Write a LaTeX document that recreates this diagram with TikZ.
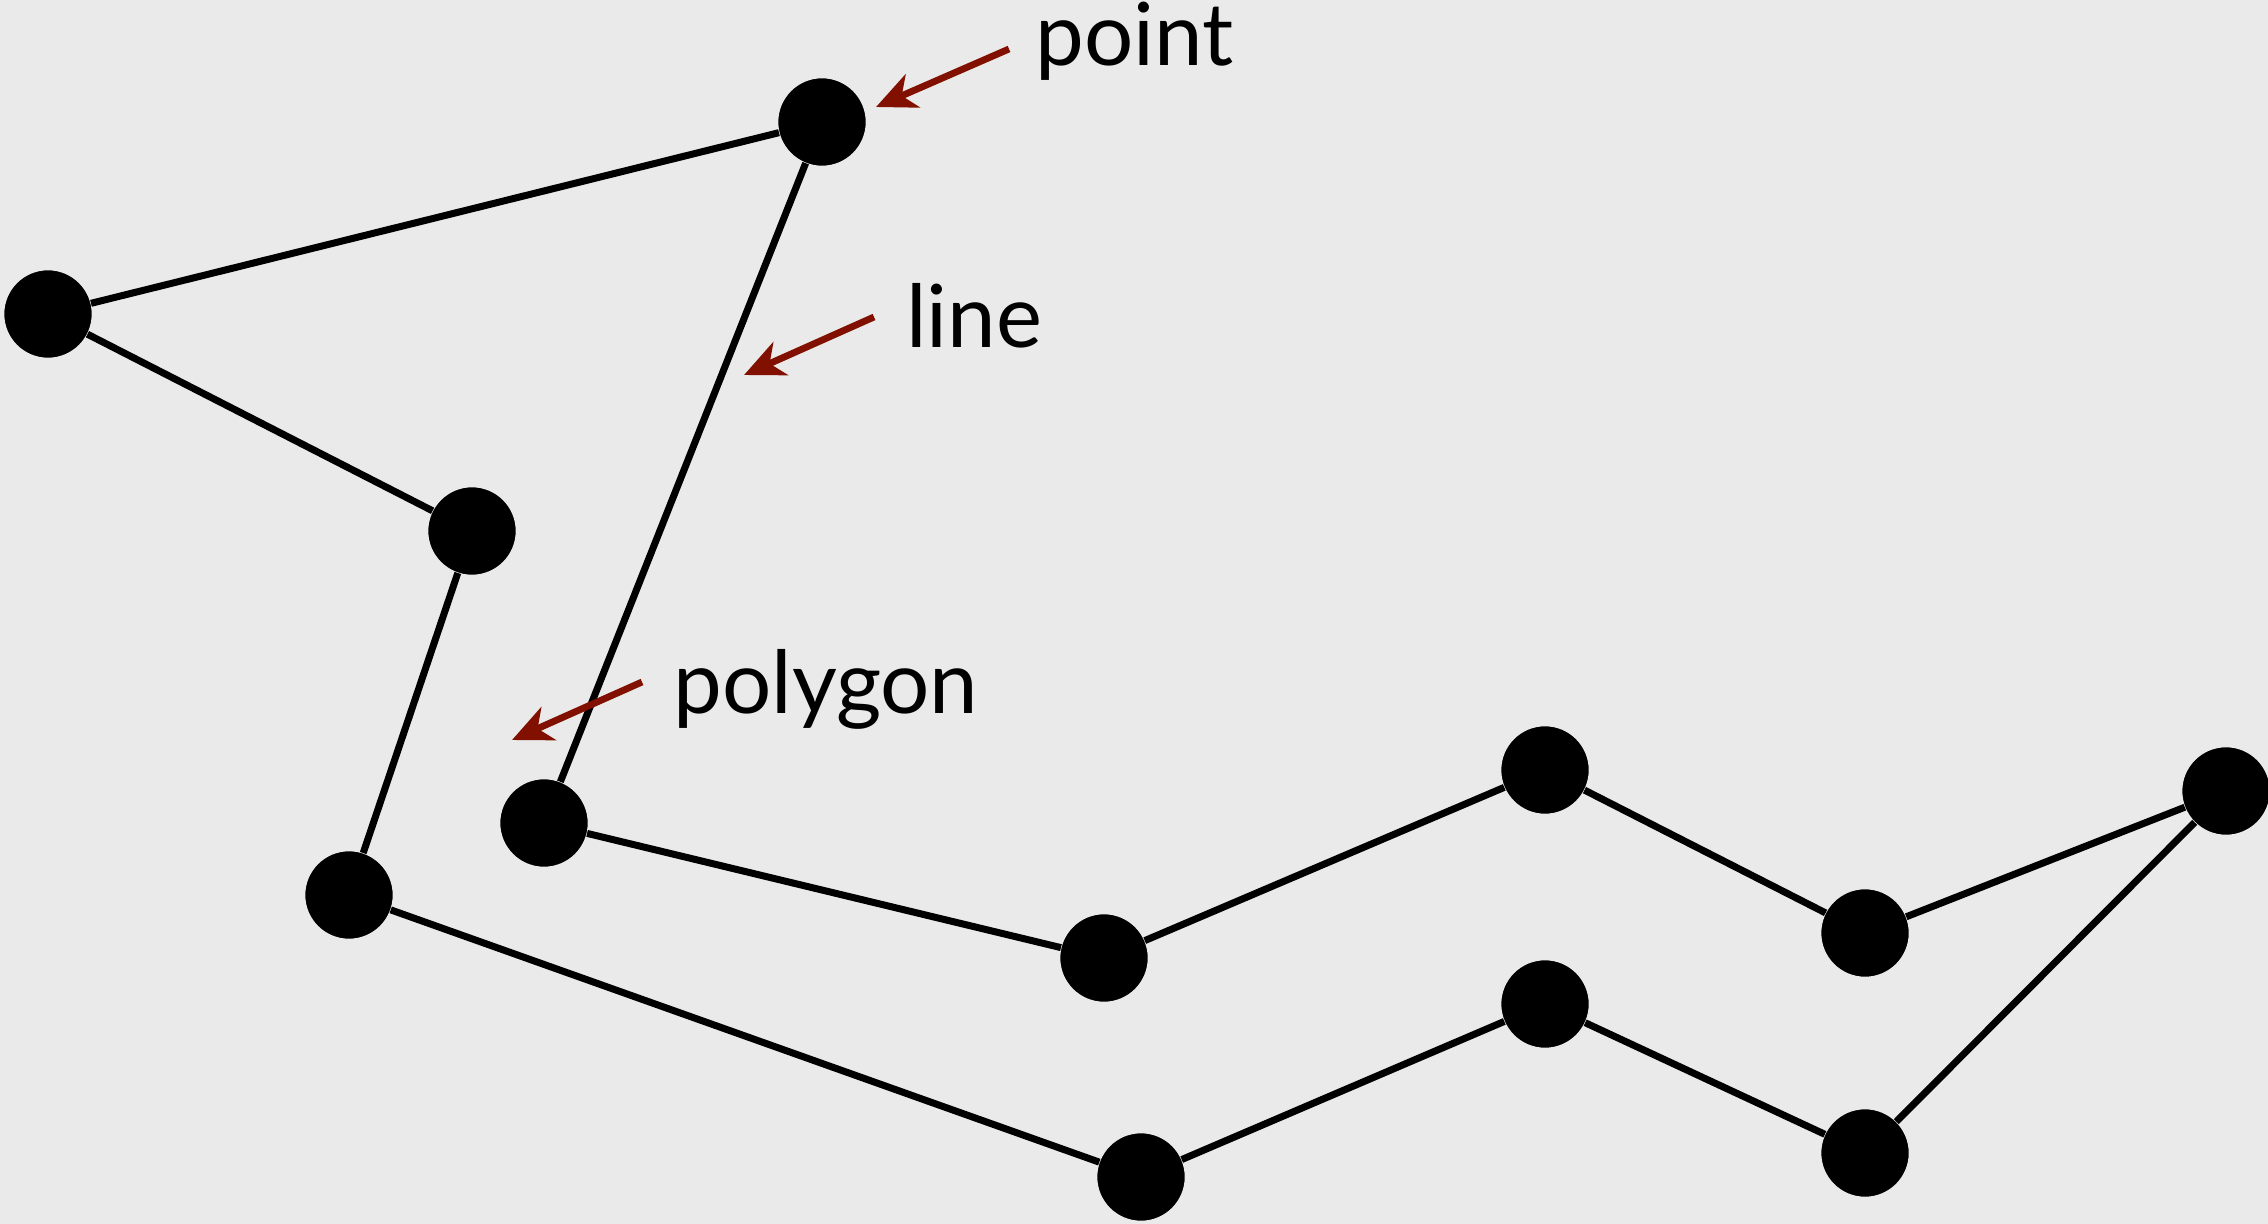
\documentclass[tikz,border=0pt]{standalone}
\usepackage{fontspec}
\setmainfont{Lato}
\usetikzlibrary{arrows.meta}
\definecolor{bg}{HTML}{EAEAEA}
\definecolor{arrred}{RGB}{130,16,0}
\tikzset{
  pt/.style={circle,fill=black,draw=bg,line width=0.8pt,minimum size=44.5pt,inner sep=0pt},
  edge/.style={line width=3.5pt,black,shorten <=-0.5pt,shorten >=-0.5pt},
  callout/.style={line width=3.4pt,arrred,-{Stealth[length=20pt,width=18pt,inset=6pt]}},
  lbl/.style={inner sep=0pt,anchor=base west,font=\fontsize{43.5pt}{50pt}\selectfont}
}
\begin{document}
\begin{tikzpicture}[x=0.5pt,y=-0.5pt]
\fill[bg] (0,0) rectangle (2268,1224);
\useasboundingbox (0,0) rectangle (2268,1224);
\node[pt] (A) at (48,314) {};
\node[pt] (B) at (822,122) {};
\node[pt] (C) at (472,531) {};
\node[pt] (D) at (544,823) {};
\node[pt] (E) at (349,895) {};
\node[pt] (F) at (1104,958) {};
\node[pt] (G) at (1545,770) {};
\node[pt] (H) at (1865,933) {};
\node[pt] (I) at (2226,791) {};
\node[pt] (J) at (1141,1177) {};
\node[pt] (K) at (1545,1004) {};
\node[pt] (L) at (1865,1153) {};
\draw[edge] (A) -- (B);
\draw[edge] (A) -- (C);
\draw[edge] (C) -- (E);
\draw[edge] (B) -- (D);
\draw[edge] (D) -- (F);
\draw[edge] (F) -- (G);
\draw[edge] (G) -- (H);
\draw[edge] (H) -- (I);
\draw[edge] (I) -- (L);
\draw[edge] (L) -- (K);
\draw[edge] (K) -- (J);
\draw[edge] (J) -- (E);
\node[lbl] (tpoint) at (1035,66) {point};
\node[lbl] (tline) at (906,348) {line};
\node[lbl] (tpoly) at (673,713) {polygon};
\coordinate (ps) at (1009,49);
\coordinate (pe) at (876,107);
\coordinate (ls) at (874,317);
\coordinate (le) at (744,375);
\coordinate (gs) at (642,682);
\coordinate (ge) at (512,740);
\draw[callout] (ps) -- (pe);
\draw[callout] (ls) -- (le);
\draw[callout] (gs) -- (ge);
\end{tikzpicture}
\end{document}
